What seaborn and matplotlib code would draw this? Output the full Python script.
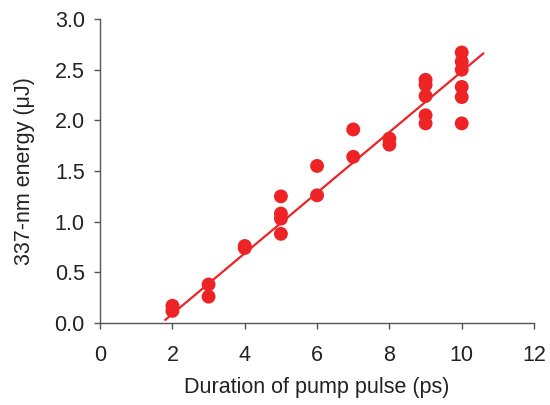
import numpy as np
import pandas as pd
import matplotlib
matplotlib.use("Agg")
import matplotlib.pyplot as plt
import seaborn as sns

# pulse duration (ps) and measured 337-nm energy (uJ)
duration = [2, 2,
            3, 3,
            4, 4,
            5, 5, 5, 5,
            6, 6,
            7, 7,
            8, 8,
            9, 9, 9, 9, 9,
            10, 10, 10, 10, 10, 10]
energy = [0.17, 0.12,
          0.38, 0.26,
          0.76, 0.74,
          1.25, 1.08, 1.03, 0.88,
          1.55, 1.26,
          1.91, 1.64,
          1.82, 1.76,
          2.40, 2.35, 2.24, 2.05, 1.97,
          2.67, 2.58, 2.50, 2.33, 2.23, 1.97]

# linear fit as drawn in the figure
fit_x = [1.8, 10.6]
fit_slope = 0.299
fit_intercept = -0.508

df = pd.DataFrame({"duration": duration, "energy": energy})

sns.set_style("ticks")
plt.rcParams['font.family'] = ['Liberation Sans', 'DejaVu Sans']

fig = plt.figure(figsize=(5.5, 4.05), dpi=100)
ax = fig.add_axes([0.182, 0.2025, 0.789, 0.7505])

red = "#ED2326"

xf = np.array(fit_x)
fit = pd.DataFrame({"x": xf, "y": fit_slope * xf + fit_intercept})
sns.lineplot(data=fit, x="x", y="y", color=red, lw=1.6, ax=ax)

sns.scatterplot(data=df, x="duration", y="energy", color=red, s=100,
                edgecolor="none", ax=ax, zorder=3)

ax.set_xlim(0, 12)
ax.set_ylim(0, 3.0)
ax.set_xticks(range(0, 13, 2))
ax.set_yticks(np.arange(0, 3.01, 0.5))
ax.set_yticklabels([f"{v:.1f}" for v in np.arange(0, 3.01, 0.5)])

sns.despine(ax=ax)
for s in ["left", "bottom"]:
    ax.spines[s].set_color("#555555")
    ax.spines[s].set_linewidth(1.0)

ax.tick_params(axis="both", direction="out", length=4, width=1,
               color="#555555", labelsize=15.5, labelcolor="#222222")
ax.tick_params(axis="x", pad=12)
ax.tick_params(axis="y", pad=7)
ax.set_xlabel("Duration of pump pulse (ps)", fontsize=15.5, color="#222222", labelpad=8)
ax.set_ylabel("337-nm energy (\u03bcJ)", fontsize=15.5, color="#222222", labelpad=14)

fig.savefig("out.png", dpi=100)
